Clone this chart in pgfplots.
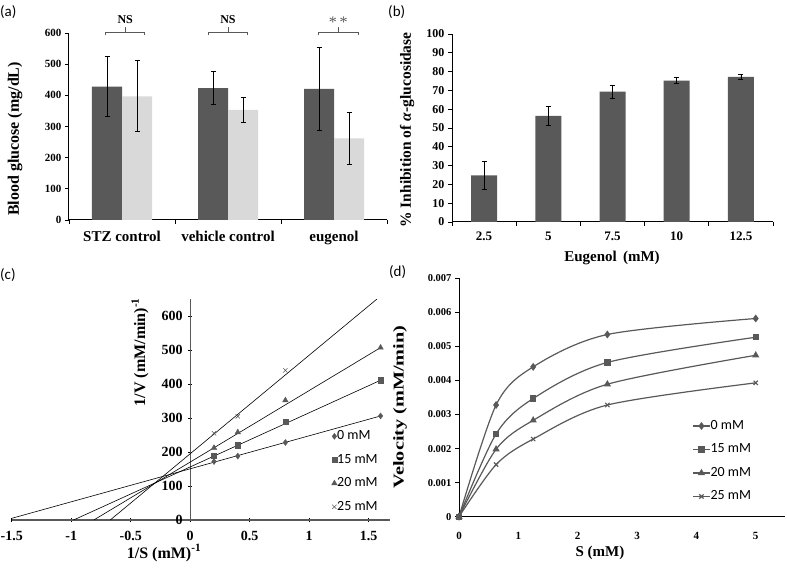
\documentclass[border=0pt]{standalone}
\usepackage{fontspec}
\setmainfont{Liberation Serif}
\newfontfamily\calfont{Carlito}
\usepackage{pgfplots}
\pgfplotsset{compat=1.18}
\definecolor{dk}{HTML}{595959}
\definecolor{lt}{HTML}{D9D9D9}
\newcommand{\fs}[1]{\fontsize{#1}{#1}\selectfont}
\pgfplotsset{
  base/.style={scale only axis, anchor=south west,
    /pgf/number format/assume math mode=true,
    tick style={black, line width=0.8pt},
    axis line style={-, line width=1pt},
    tick align=outside, major tick length=4pt},
  errs/.style={error bars/.cd, y dir=both, y explicit,
    error bar style={black, line width=0.7pt},
    error mark options={rotate=90, black, mark size=2.5pt, line width=0.7pt}},
}
\begin{document}
\begin{tikzpicture}
\path[use as bounding box] (0pt,0pt) rectangle (787pt,568pt);
\node[font=\calfont\fs{15}, anchor=west, inner sep=0] at (0pt,556pt) {(a)};
\node[font=\calfont\fs{15}, anchor=west, inner sep=0] at (388pt,556pt) {(b)};
\node[font=\calfont\fs{15}, anchor=west, inner sep=0] at (0pt,293pt) {(c)};
\node[font=\calfont\fs{15}, anchor=west, inner sep=0] at (389pt,296pt) {(d)};

% axis titles, placed absolutely
\node[font=\bfseries\fs{16}, rotate=90] at (15pt,429pt) {Blood glucose (mg/dL)};
\node[font=\bfseries\fs{15.5}, rotate=90] at (407pt,438pt) {\% Inhibition of \textit{α}-glucosidase};
\node[font=\bfseries\fs{15}] at (612pt,310pt) {Eugenol\, (mM)};
\node[font=\bfseries\fs{16}, rotate=90] at (140pt,216pt) {1/V (mM/min)\textsuperscript{-1}};
\node[font=\bfseries\fs{16}] at (164pt,15pt) {1/S (mM)\textsuperscript{-1}};
\node[font=\bfseries\fs{15}, rotate=90] at (400pt,161pt) {\scalebox{1.35}[1]{Velocity (mM/min)}};
\node[font=\bfseries\fs{15}] at (600pt,15pt) {S (mM)};

% ---------- (a)
\begin{axis}[base, at={(69pt,348pt)}, width=318pt, height=187pt,
  xmin=-0.5, xmax=2.5, ymin=0, ymax=600,
  axis x line*=bottom, axis y line*=left, clip=false,
  ybar, bar width=30pt,
  xtick={-0.5,0.5,1.5,2.5}, xticklabels={},
  extra x ticks={0,1,2}, extra x tick labels={STZ control, vehicle control, eugenol},
  extra x tick style={major tick length=0pt, xticklabel style={font=\bfseries\fs{15}, yshift=-8pt}},
  ytick={0,100,...,600}, yticklabel style={font=\bfseries\fs{11}},
]
\addplot[fill=dk, draw=none, bar shift=-15pt, errs] coordinates {(0,428) +- (0,97) (1,423) +- (0,53) (2,421) +- (0,133)};
\addplot[fill=lt, draw=none, bar shift=15pt, errs] coordinates {(0,397) +- (0,114) (1,353) +- (0,40) (2,262) +- (0,84)};
\draw[line width=0.7pt, dk] (axis cs:-0.155,592) -- (axis cs:-0.155,603) -- (axis cs:0.215,603) -- (axis cs:0.215,592);
\draw[line width=0.7pt, dk] (axis cs:0.03,603) -- (axis cs:0.03,619);
\node[font=\bfseries\fs{12}] at (axis cs:0.03,642) {NS};
\draw[line width=0.7pt, dk] (axis cs:0.815,592) -- (axis cs:0.815,603) -- (axis cs:1.185,603) -- (axis cs:1.185,592);
\draw[line width=0.7pt, dk] (axis cs:1,603) -- (axis cs:1,619);
\node[font=\bfseries\fs{12}] at (axis cs:1,642) {NS};
\draw[line width=0.7pt, dk] (axis cs:1.855,592) -- (axis cs:1.855,603) -- (axis cs:2.225,603) -- (axis cs:2.225,592);
\draw[line width=0.7pt, dk] (axis cs:2.04,603) -- (axis cs:2.04,619);
\node[font=\fs{16}, dk] at (axis cs:2.04,636) {*\,*};
\end{axis}

% ---------- (b)
\begin{axis}[base, at={(452pt,346pt)}, width=321pt, height=188pt,
  xmin=-0.5, xmax=4.5, ymin=0, ymax=100,
  axis x line*=bottom, axis y line*=left,
  ybar, bar width=26pt,
  xtick={-0.5,0.5,1.5,2.5,3.5,4.5}, xticklabels={},
  extra x ticks={0,1,2,3,4}, extra x tick labels={2.5,5,7.5,10,12.5},
  extra x tick style={major tick length=0pt, xticklabel style={font=\bfseries\fs{13}, yshift=-6pt}},
  ytick={0,10,...,100}, yticklabel style={font=\bfseries\fs{12}},
]
\addplot[fill=dk, draw=none, bar shift=0pt, errs] coordinates {(0,24.8) +- (0,7.3) (1,56.5) +- (0,5) (2,69.3) +- (0,3.4) (3,75.2) +- (0,1.7) (4,77.2) +- (0,1.5)};
\end{axis}

% ---------- (c)
\begin{axis}[base, at={(11.7pt,48pt)}, width=378.4pt, height=221pt,
  xmin=-1.5, xmax=1.68, ymin=0, ymax=650,
  axis lines=middle, axis line style={-, line width=1.3pt, color=dk},
  hide obscured x ticks=false, hide obscured y ticks=false,
  xtick={-1.5,-1,-0.5,0,0.5,1,1.5}, ytick={0,100,...,600},
  xticklabel style={font=\bfseries\fs{14}, yshift=-6pt},
  yticklabel style={font=\bfseries\fs{14}, xshift=-2pt},
  clip mode=individual,
  legend style={at={(rel axis cs:0.837,0.418)}, anchor=north west, draw=none, fill=none,
    font=\calfont\fs{14}, row sep=10.5pt, nodes={inner sep=0pt, text height=10pt, text depth=3pt}},
  legend cell align=left,
]
\addplot[black, line width=0.6pt, forget plot] coordinates {(-1.5,4.9) (1.6,306)};
\addplot[black, line width=0.6pt, forget plot] coordinates {(-0.98,0) (1.6,411)};
\addplot[black, line width=0.6pt, forget plot] coordinates {(-0.81,0) (1.6,507)};
\addplot[black, line width=0.6pt, forget plot] coordinates {(-0.672,0) (1.57,650)};
\addplot[only marks, mark=diamond*, mark size=3pt, dk] coordinates {(0.2,172) (0.4,188) (0.8,228) (1.6,306)};
\addplot[only marks, mark=square*, mark size=2.6pt, dk] coordinates {(0.2,190) (0.4,220) (0.8,288) (1.6,411)};
\addplot[only marks, mark=triangle*, mark size=3.2pt, dk] coordinates {(0.2,212) (0.4,258) (0.8,352) (1.6,507)};
\addplot[only marks, mark=x, mark size=3pt, dk, line width=0.6pt] coordinates {(0.2,255) (0.4,305) (0.8,440)};
\legend{0 mM, 15 mM, 20 mM, 25 mM}
\end{axis}

% ---------- (d)
\begin{axis}[base, at={(459pt,51.3pt)}, width=326.4pt, height=238.4pt,
  xmin=0, xmax=5.5, ymin=0, ymax=0.007,
  axis x line*=bottom, axis y line*=left,
  xtick={0,1,2,3,4,5}, xticklabel style={font=\bfseries\fs{11}, yshift=-8pt},
  x tick style={draw=none},
  ytick={0,0.001,0.002,0.003,0.004,0.005,0.006,0.007},
  yticklabels={0,0.001,0.002,0.003,0.004,0.005,0.006,0.007},
  scaled y ticks=false,
  yticklabel style={font=\bfseries\fs{10.5}},
  clip mode=individual,
  legend style={at={(rel axis cs:0.705,0.417)}, anchor=north west, draw=none, fill=none,
    font=\calfont\fs{14}, row sep=10.5pt, nodes={inner sep=0pt, text height=10pt, text depth=3pt}},
  legend cell align=left,
]
\addplot[dk, line width=1.2pt, smooth, mark=diamond*, mark size=3pt] coordinates {(0,0) (0.625,0.00328) (1.25,0.00440) (2.5,0.00535) (5,0.00582)};
\addplot[dk, line width=1.2pt, smooth, mark=square*, mark size=2.6pt] coordinates {(0,0) (0.625,0.00243) (1.25,0.00347) (2.5,0.00453) (5,0.00527)};
\addplot[dk, line width=1.2pt, smooth, mark=triangle*, mark size=3pt] coordinates {(0,0) (0.625,0.00198) (1.25,0.00283) (2.5,0.00389) (5,0.00474)};
\addplot[dk, line width=1.2pt, smooth, mark=x, mark size=3pt] coordinates {(0,0) (0.625,0.00153) (1.25,0.00228) (2.5,0.00328) (5,0.00393)};
\legend{0 mM, 15 mM, 20 mM, 25 mM}
\end{axis}
\end{tikzpicture}
\end{document}
